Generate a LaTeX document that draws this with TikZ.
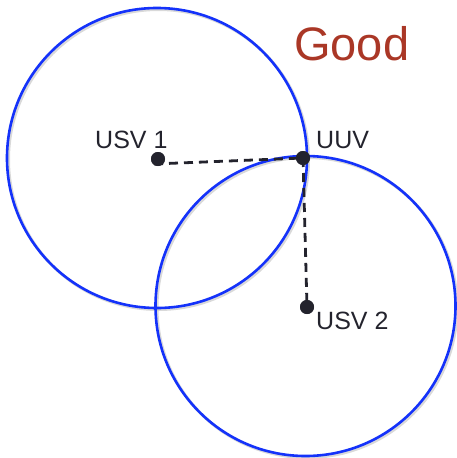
\documentclass[tikz,border=0pt]{standalone}
\usepackage{fontspec}
\setmainfont{Liberation Sans}
\definecolor{ringblue}{RGB}{20,50,250}
\definecolor{goodred}{RGB}{170,55,38}
\definecolor{inkdark}{RGB}{35,35,45}
\begin{document}
\begin{tikzpicture}[x=1pt,y=-1pt,
  ring/.style={draw=ringblue,line width=2.6pt},
  ringshade/.style={draw=black!25,line width=3pt,opacity=0.6},
  dot/.style={circle,fill=inkdark,inner sep=0pt,minimum size=14pt},
  link/.style={draw=inkdark,line width=2.8pt,dash pattern=on 9pt off 6pt},
  lbl/.style={anchor=west,inner sep=0pt,text=inkdark,font=\fontsize{25}{25}\selectfont}]
  \useasboundingbox (0,0) rectangle (456,458);
  % range circles with a soft shadow
  \draw[ringshade] (158.5,159.5) circle[radius=150pt];
  \draw[ringshade] (307,307.5) circle[radius=150pt];
  \draw[ring] (157,158) circle[radius=150pt];
  \draw[ring] (305.5,306) circle[radius=150pt];
  % vehicles
  \node[dot] (usv1) at (158,159) {};
  \node[dot] (uuv) at (303,158) {};
  \node[dot] (usv2) at (307,307) {};
  \draw[link] ([shift={(-4,5)}]usv1.center) -- (uuv.center);
  \draw[link] (uuv.center) -- (usv2.center);
  \node[dot] at (usv1.center) {};
  \node[dot] at (uuv.center) {};
  \node[dot] at (usv2.center) {};
  \node[lbl] (l1) at (95,140) {USV 1};
  \node[lbl] (lu) at (316,140) {UUV};
  \node[lbl] (l2) at (316,321) {USV 2};
  \node[anchor=west,inner sep=0pt,text=goodred,font=\fontsize{47}{47}\selectfont] (good) at (294,44) {Good};
\end{tikzpicture}
\end{document}
